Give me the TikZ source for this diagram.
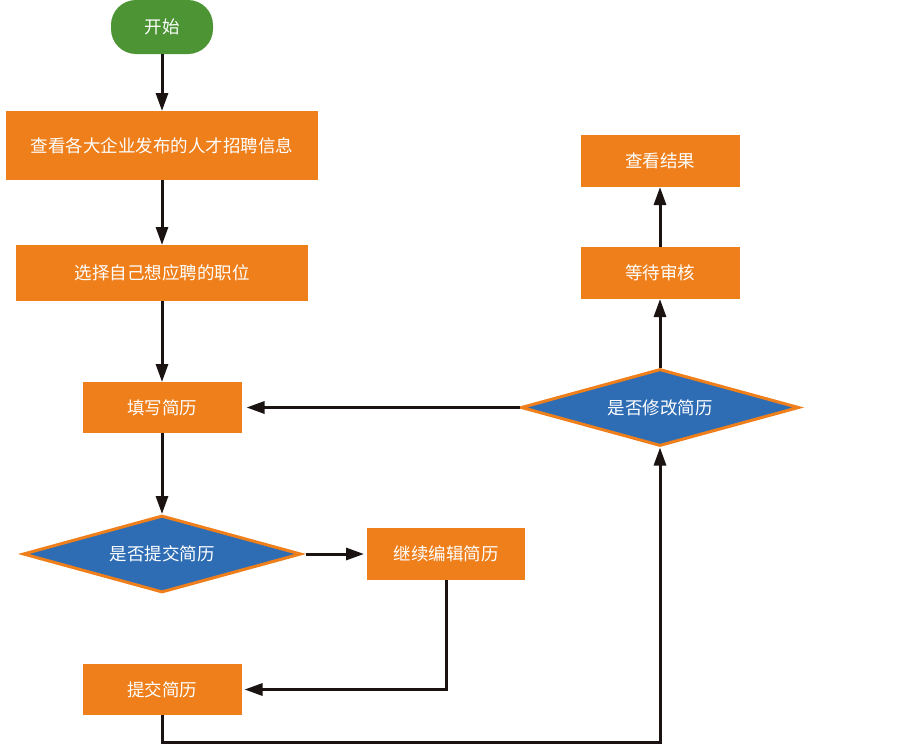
\documentclass[tikz,border=0pt]{standalone}
\usepackage{fontspec}
\newfontfamily\cjk{Noto Sans CJK SC}
\usetikzlibrary{shapes.geometric,arrows.meta}
\definecolor{boxorange}{HTML}{EE7F1B}
\definecolor{startgreen}{HTML}{4C9434}
\definecolor{decblue}{HTML}{2E6DB4}
\definecolor{linedark}{HTML}{1A1311}
\tikzset{
  txt/.style={text=white,font=\cjk\fontsize{17.5}{20}\selectfont},
  procbox/.style={txt,rectangle,fill=boxorange,draw=none,inner sep=0pt,outer sep=0pt},
  startbox/.style={txt,rectangle,rounded corners=25pt,fill=startgreen,draw=none,inner sep=0pt,minimum width=102pt,minimum height=54pt},
  decbox/.style={txt,diamond,fill=decblue,draw=boxorange,line width=3pt,inner sep=0pt,aspect=3.54,minimum width=278pt,minimum height=77pt},
  conn/.style={draw=linedark,line width=3pt,-{Triangle[length=18pt,width=12pt]}},
}
\begin{document}
\begin{tikzpicture}[x=1pt,y=-1pt]
\useasboundingbox (0,0) rectangle (903,745);
\node[startbox] (start) at (162,27) {开始};
\node[procbox,minimum width=312pt,minimum height=69pt] (b1) at (162,145.5) {查看各大企业发布的人才招聘信息};
\node[procbox,minimum width=292pt,minimum height=56pt] (b2) at (162,273) {选择自己想应聘的职位};
\node[procbox,minimum width=159pt,minimum height=51pt] (b3) at (162,407.5) {填写简历};
\node[decbox] (d1) at (162,554) {是否提交简历};
\node[procbox,minimum width=158pt,minimum height=52pt] (b4) at (446,554) {继续编辑简历};
\node[procbox,minimum width=159pt,minimum height=51pt] (b5) at (162,689.5) {提交简历};
\node[decbox] (d2) at (660,407.5) {是否修改简历};
\node[procbox,minimum width=159pt,minimum height=52pt] (b6) at (660,273) {等待审核};
\node[procbox,minimum width=159pt,minimum height=52pt] (b7) at (660,161) {查看结果};
\coordinate (c1) at (446,689.5);
\coordinate (c2) at (162,742);
\coordinate (c3) at (660,742);
\draw[conn] (start) -- (b1);
\draw[conn] (b1) -- (b2);
\draw[conn] (b2) -- (b3);
\draw[conn] (b3) -- (d1);
\draw[conn,shorten <=3pt,shorten >=3pt] (d1.east) -- (b4.west);
\draw[conn,shorten >=3pt,line join=miter] (b4.south) -- (c1) -- (b5.east);
\draw[conn,line join=miter] (b5.south) -- (c2) -- (c3) -- (d2.south);
\draw[conn,shorten >=5pt] (d2.west) -- (b3.east);
\draw[conn] (d2.north) -- (b6.south);
\draw[conn] (b6.north) -- (b7.south);
\end{tikzpicture}
\end{document}
